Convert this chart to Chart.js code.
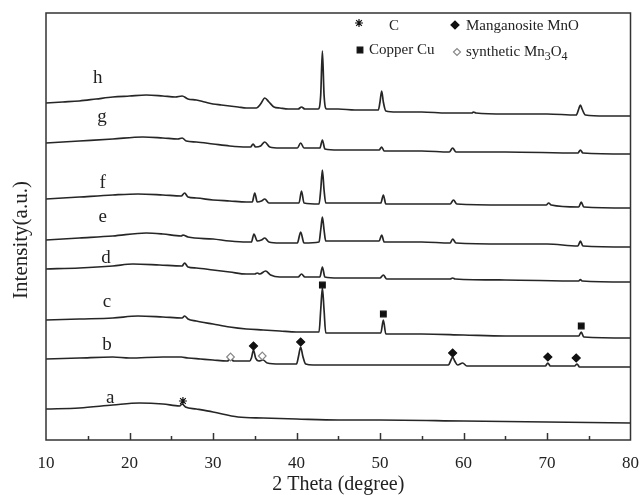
<!DOCTYPE html>
<html lang="en">
<head>
<meta charset="UTF-8">
<title>XRD patterns a-h</title>
<style>
  html, body { margin: 0; padding: 0; background: #fff; }
  #wrap { width: 644px; height: 495px; }
</style>
</head>
<body>
<div id="wrap"><canvas id="xrdChart" width="644" height="495"></canvas></div>
<script src="https://cdn.jsdelivr.net/npm/chart.js"></script>
<script>
// 2 theta (degree) / intensity (a.u., traces stacked as in the figure)
const thetaH = [10,12,14,16,18,20,22,24,25.5,26.3,27,28,29,30,31,32,33,34,35.2,35.7,36.2,36.7,37.3,38,39,40.2,40.6,41,42.6,42.9,43.1,43.3,43.6,45,47,49.8,50.0,50.2,50.4,50.7,52,55,58,61,61.2,61.5,65,70,73.5,73.8,74.0,74.2,74.6,77,80];
const intH   = [337,338,339,341,343,344,345,344,343,344,341,340,338,336,335,334,333,332,332,336,342,338,333,332,331,331,333,331,331,345,389,345,331,331,330,330,338,349,338,329,328,328,327,327,328,327,326,326,325,331,335,331,325,324,324];

const thetaG = [10,14,18,21.6,24,25.8,26.3,26.8,28,30,32,34,34.5,34.8,35.1,35.7,36.2,36.8,38,40.1,40.5,40.9,42.8,43.1,43.4,45,49.9,50.2,50.5,55,58.3,58.7,59.1,65,73.7,74.0,74.3,80];
const intG   = [297,299,301,303,302,301,302,299,298,296,294,293,293,296,293,294,298,293,292,292,297,292,292,300,291,290,290,293,289,289,288,292,288,288,287,290,287,286];

const thetaF = [10,14,18,21,24,26.2,26.6,27,28,30,32,34,34.7,35.0,35.3,35.8,36.2,36.7,38,40.3,40.6,40.9,42.7,42.9,43.1,43.3,43.5,45,50.1,50.4,50.7,55,58.4,58.8,59.2,65,69.9,70.2,70.5,73.8,74.1,74.4,80];
const intF   = [241,243,245,246,245,244,247,243,242,240,239,238,238,247,238,239,241,237,237,237,249,237,236,250,270,250,237,237,237,245,236,236,236,240,236,235,235,237,235,233,238,233,232];

const thetaE = [10,14,18,22,24,26.2,26.4,27,30,32,34,34.6,34.9,35.3,35.8,36.2,36.7,38,40.1,40.5,40.9,42.7,42.9,43.1,43.3,43.5,45,49.9,50.2,50.5,55,58.4,58.7,59.1,65,70,73.7,74.0,74.3,80];
const intE   = [200,202,204,207,206,204,205,203,201,199,198,198,206,199,200,202,198,197,197,208,197,198,210,223,210,199,199,199,205,198,198,197,201,197,196,196,194,199,194,193];

const thetaD = [10,14,18,20.4,23.6,26.3,26.6,27,28,30,32,34,35.0,35.3,35.6,36.3,36.9,38,40.2,40.6,41,42.8,43.1,43.4,45,50.0,50.4,50.8,55,58.4,58.7,59,65,73.8,74.0,74.2,80];
const intD   = [171,172,174,176,175,174,177,173,172,170,168,166,166,167,166,169,165,163,163,166,163,163,173,163,162,162,165,161,161,161,162,161,160,159,160.5,159,158];

const thetaC = [10,14,18,21,24,26.3,26.6,27,28,30,32,34,36,38,40,42.7,42.9,43.1,43.3,43.5,45,50.1,50.4,50.7,55,60,65,73.8,74.1,74.4,80];
const intC   = [120,121,122,124,123,122,124,121,119,116,113,111,110,109,108,108,130,152,130,107,107,107,120,106,106,105,104,104,108,103,102];

const thetaB = [10,14,18,20,24,26.2,27,28.5,30,31.7,32.1,32.5,34.4,34.6,34.85,35.1,35.5,36.0,36.5,38,40.0,40.25,40.5,40.75,41.1,42,50,55,58.2,58.45,58.7,58.95,59.3,59.9,60.4,65,69.8,70.1,70.4,73.3,73.6,73.9,80];
const intB   = [81,82,83,82,83,83,82,81,80,79,81,79,79,82,90,82,79,80,77,76,76,84,93,84,76,75,75,75,75,79,83,79,75,77,74,74,74,77,74,74,76,73,73];

const thetaA = [10,14,18,21.2,24,26.0,26.3,26.7,28,30,33,36,40,45,50,60,70,80];
const intA   = [31,32,35,37,36,34,36,33,31,28,23,22,21,20,20,19,18,17];

// phase markers
const starTheta  = [26.4];                      const starInt  = [39];
const cuTheta    = [43.1, 50.4, 74.1];          const cuInt    = [155, 126, 114];
const mnoTheta   = [34.85, 40.5, 58.7, 70.1, 73.5]; const mnoInt = [94, 98, 87, 83, 82];
const mn3o4Theta = [32.1, 35.9];                const mn3o4Int = [83, 84];

// sample letters and where they sit (2 theta, intensity at text baseline)
const sampleNames = ['a','b','c','d','e','f','g','h'];
const nameTheta   = [17.7, 17.3, 17.3, 17.2, 16.8, 16.8, 16.7, 16.2];
const nameInt     = [37, 90, 133, 177, 218, 252, 318, 357];

const SERIF = '"Liberation Serif", "Times New Roman", serif';
const INK = '#222';

function pts(xs, ys) {
    return xs.map((t, i) => ({ x: t, y: ys[i] }));
}

function trace(xs, ys) {
    return {
        data: pts(xs, ys),
        borderColor: '#262626',
        borderWidth: 1.7,
        pointRadius: 0,
        cubicInterpolationMode: 'monotone',
        fill: false,
        order: 2
    };
}

function marker(xs, ys, style, r, fillCol, lineCol) {
    return {
        data: pts(xs, ys),
        showLine: false,
        pointStyle: style,
        pointRadius: r,
        pointBackgroundColor: fillCol,
        pointBorderColor: lineCol,
        pointBorderWidth: 1.2,
        order: 0
    };
}

const datasets = [
    trace(thetaA, intA), trace(thetaB, intB), trace(thetaC, intC), trace(thetaD, intD),
    trace(thetaE, intE), trace(thetaF, intF), trace(thetaG, intG), trace(thetaH, intH),
    marker(starTheta, starInt, 'star', 4, '#111', '#111'),
    marker(cuTheta, cuInt, 'rect', 4, '#111', '#111'),
    marker(mnoTheta, mnoInt, 'rectRot', 4, '#111', '#111'),
    marker(mn3o4Theta, mn3o4Int, 'rectRot', 3.8, '#fff', '#888')
];

// frame, inward ticks, y title, sample letters and the phase key
const decor = {
    id: 'decor',
    afterDraw(chart) {
        const { ctx, chartArea: ca, scales: { x, y } } = chart;
        ctx.save();
        ctx.strokeStyle = '#333';
        ctx.lineWidth = 1.5;
        ctx.strokeRect(ca.left, ca.top, ca.right - ca.left, ca.bottom - ca.top);
        for (let v = 15; v < 80; v += 5) {
            const px = Math.round(x.getPixelForValue(v)) + 0.5;
            const len = v % 10 === 0 ? 7 : 4;
            ctx.beginPath();
            ctx.moveTo(px, ca.bottom);
            ctx.lineTo(px, ca.bottom - len);
            ctx.stroke();
        }

        ctx.fillStyle = INK;
        ctx.save();
        ctx.translate(21, 240);
        ctx.rotate(-Math.PI / 2);
        ctx.textAlign = 'center';
        ctx.textBaseline = 'middle';
        ctx.font = '21px ' + SERIF;
        ctx.fillText('Intensity(a.u.)', 0, 0);
        ctx.restore();

        ctx.font = '19px ' + SERIF;
        ctx.textAlign = 'center';
        ctx.textBaseline = 'alphabetic';
        sampleNames.forEach((s, i) => {
            ctx.fillText(s, x.getPixelForValue(nameTheta[i]), y.getPixelForValue(nameInt[i]));
        });

        // key
        const H = Chart.helpers;
        ctx.fillStyle = '#111';
        ctx.strokeStyle = '#111';
        ctx.lineWidth = 1.2;
        H.drawPoint(ctx, { pointStyle: 'star', radius: 4, borderWidth: 1.2 }, 359, 23);
        H.drawPoint(ctx, { pointStyle: 'rectRot', radius: 4, borderWidth: 1 }, 455, 25);
        H.drawPoint(ctx, { pointStyle: 'rect', radius: 4, borderWidth: 1 }, 360, 50);
        ctx.fillStyle = '#fff';
        ctx.strokeStyle = '#888';
        H.drawPoint(ctx, { pointStyle: 'rectRot', radius: 3.5, borderWidth: 1.2 }, 457, 52);

        ctx.fillStyle = INK;
        ctx.font = '15px ' + SERIF;
        ctx.textBaseline = 'middle';
        ctx.textAlign = 'center';
        ctx.fillText('C', 394, 26);
        ctx.textAlign = 'left';
        ctx.fillText('Manganosite MnO', 466, 26);
        ctx.fillText('Copper Cu', 369, 50);
        let tx = 466;
        const runs = [['synthetic Mn', 0], ['3', 1], ['O', 0], ['4', 1]];
        runs.forEach(([t, sub]) => {
            ctx.font = (sub ? '12px ' : '15px ') + SERIF;
            ctx.fillText(t, tx, sub ? 57 : 52);
            tx += ctx.measureText(t).width;
        });
        ctx.restore();
    }
};

new Chart(document.getElementById('xrdChart'), {
    type: 'line',
    data: { datasets: datasets },
    options: {
        responsive: false,
        animation: false,
        events: [],
        layout: { padding: { left: 46, right: 13, top: 13, bottom: 0 } },
        plugins: { legend: { display: false }, tooltip: { enabled: false } },
        scales: {
            x: {
                type: 'linear',
                min: 10,
                max: 80,
                afterFit(s) { s.height = 55; },
                grid: { display: false },
                border: { display: false },
                ticks: { stepSize: 10, padding: 5, color: INK, font: { family: SERIF, size: 17 } },
                title: {
                    display: true,
                    text: '2 Theta (degree)',
                    color: INK,
                    font: { family: SERIF, size: 20, lineHeight: 1 },
                    padding: { top: 0, bottom: 0 }
                }
            },
            y: { display: false, min: 0, max: 427 }
        }
    },
    plugins: [decor]
});
</script>
</body>
</html>
